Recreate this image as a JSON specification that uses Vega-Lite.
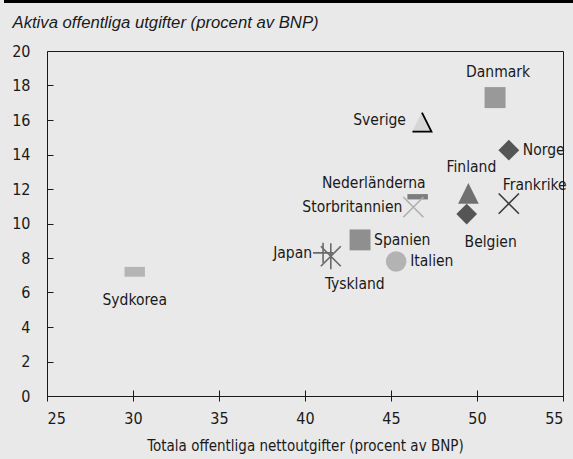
{
  "$schema": "https://vega.github.io/schema/vega-lite/v6.json",
  "width": 516,
  "height": 345,
  "autosize": {"type": "none"},
  "padding": {"left": 47, "top": 51, "right": 10, "bottom": 63},
  "background": "#e9e9e9",
  "config": {
    "view": {"stroke": "#1a1a1a", "strokeWidth": 1},
    "font": "'DejaVu Sans Condensed', 'Liberation Sans', sans-serif",
    "text": {"font": "'DejaVu Sans Condensed', 'Liberation Sans', sans-serif"},
    "axis": {"labelFont": "'DejaVu Sans Condensed', 'Liberation Sans', sans-serif", "titleFont": "'DejaVu Sans Condensed', 'Liberation Sans', sans-serif", "labelColor": "#1a1a1a", "titleColor": "#1a1a1a", "tickColor": "#1a1a1a", "grid": false, "domain": false}
  },
  "data": {
    "values": [
      {"land": "Sydkorea", "total": 30.1, "aktiva": 7.2},
      {"land": "Japan", "total": 41.05, "aktiva": 8.3},
      {"land": "Tyskland", "total": 41.5, "aktiva": 8.1},
      {"land": "Spanien", "total": 43.2, "aktiva": 9.05},
      {"land": "Italien", "total": 45.3, "aktiva": 7.8},
      {"land": "Storbritannien", "total": 46.3, "aktiva": 10.95},
      {"land": "Nederländerna", "total": 46.55, "aktiva": 11.55},
      {"land": "Sverige", "total": 46.8, "aktiva": 15.88},
      {"land": "Finland", "total": 49.5, "aktiva": 11.75},
      {"land": "Belgien", "total": 49.4, "aktiva": 10.55},
      {"land": "Danmark", "total": 51.05, "aktiva": 17.3},
      {"land": "Norge", "total": 51.85, "aktiva": 14.25},
      {"land": "Frankrike", "total": 51.85, "aktiva": 11.15}
    ]
  },
  "encoding": {
    "x": {
      "field": "total", "type": "quantitative",
      "scale": {"domain": [25, 55], "nice": false, "zero": false},
      "axis": {
        "title": "Totala offentliga nettoutgifter (procent av BNP)",
        "values": [25, 30, 35, 40, 45, 50, 55],
        "offset": -6, "tickSize": 11, "tickWidth": 1,
        "labelPadding": 9, "labelFontSize": 16,
        "titleFontSize": 15, "titleFontWeight": "normal", "titlePadding": 12
      }
    },
    "y": {
      "field": "aktiva", "type": "quantitative",
      "scale": {"domain": [0, 20], "nice": false},
      "axis": {
        "title": "Aktiva offentliga utgifter (procent av BNP)",
        "values": [0, 2, 4, 6, 8, 10, 12, 14, 16, 18, 20],
        "offset": -6, "tickSize": 6, "tickWidth": 1,
        "labelPadding": 17, "labelFontSize": 16,
        "titleAngle": 0, "titleAlign": "left", "titleBaseline": "alphabetic",
        "titleX": -41, "titleY": -24,
        "titleFont": "Liberation Sans", "titleFontStyle": "italic", "titleFontWeight": "normal", "titleFontSize": 16.7
      }
    }
  },
  "layer": [
    {
      "mark": {"type": "rule", "color": "#000000", "strokeWidth": 3, "clip": false},
      "encoding": {
        "x": {"datum": 22.5, "type": "quantitative"},
        "x2": {"datum": 55.7},
        "y": {"datum": 22.88, "type": "quantitative"},
        "y2": {"datum": 22.88}
      }
    },
    {
      "transform": [{"filter": {"field": "land", "oneOf": ["Danmark", "Spanien", "Norge", "Belgien", "Finland", "Italien", "Nederländerna", "Sydkorea", "Sverige"]}}],
      "mark": {"type": "point", "filled": true, "opacity": 1, "strokeWidth": 0},
      "encoding": {
        "shape": {"field": "land", "type": "nominal", "legend": null,
          "scale": {"domain": ["Danmark", "Spanien", "Norge", "Belgien", "Finland", "Italien", "Nederländerna", "Sydkorea", "Sverige", "Frankrike", "Storbritannien", "Japan", "Tyskland"],
            "range": ["square", "square", "diamond", "diamond", "M0,-1L1,1L-1,1Z", "circle", "M-1,-0.26L1,-0.26L1,0.26L-1,0.26Z", "M-1,-0.48L1,-0.48L1,0.48L-1,0.48Z", "M0,-1L1,1L-1,1Z", "M-1,-1L1,1M-1,1L1,-1", "M-1,-1L1,1M-1,1L1,-1", "M-1,0L1,0M0,-1L0,1", "M-1,-1L1,1M-1,1L1,-1M0,-1.3L0,1.3"]}},
        "color": {"field": "land", "type": "nominal", "legend": null,
          "scale": {"domain": ["Danmark", "Spanien", "Norge", "Belgien", "Finland", "Italien", "Nederländerna", "Sydkorea", "Sverige", "Frankrike", "Storbritannien", "Japan", "Tyskland"],
            "range": ["#999999", "#8f8f8f", "#555555", "#555555", "#707070", "#b3b3b3", "#7d7d7d", "#b5b5b5", "#d6d6d6", "#3c3c3c", "#b0b0b0", "#6a6a6a", "#6a6a6a"]}},
        "size": {"field": "land", "type": "nominal", "legend": null,
          "scale": {"domain": ["Danmark", "Spanien", "Norge", "Belgien", "Finland", "Italien", "Nederländerna", "Sydkorea", "Sverige", "Frankrike", "Storbritannien", "Japan", "Tyskland"],
            "range": [441, 400, 420, 400, 400, 380, 441, 121, 361, 361, 400, 256, 289]}}
      }
    },
    {
      "transform": [{"filter": {"field": "land", "oneOf": ["Frankrike", "Storbritannien", "Japan", "Tyskland"]}}],
      "mark": {"type": "point", "filled": false, "opacity": 1, "strokeWidth": 1.6},
      "encoding": {
        "shape": {"field": "land", "type": "nominal", "legend": null},
        "color": {"field": "land", "type": "nominal", "legend": null},
        "size": {"field": "land", "type": "nominal", "legend": null}
      }
    },
    {
      "transform": [{"filter": "datum.land == 'Sverige'"}],
      "mark": {"type": "point", "filled": false, "opacity": 1, "shape": "M0,-1L1,1L-1,1", "color": "#000000", "strokeWidth": 1.8, "size": 361}
    },
    {
      "transform": [{"filter": {"field": "land", "oneOf": ["Danmark", "Finland"]}}],
      "mark": {"type": "text", "align": "center", "baseline": "middle", "dx": 3, "dy": -26, "fontSize": 15.5, "color": "#1a1a1a"},
      "encoding": {"text": {"field": "land"}}
    },
    {
      "transform": [{"filter": "datum.land == 'Sydkorea'"}],
      "mark": {"type": "text", "align": "center", "baseline": "middle", "dx": 0, "dy": 28, "fontSize": 15.5, "color": "#1a1a1a"},
      "encoding": {"text": {"field": "land"}}
    },
    {
      "transform": [{"filter": {"field": "land", "oneOf": ["Belgien", "Tyskland"]}}],
      "mark": {"type": "text", "align": "center", "baseline": "middle", "dx": 24, "dy": 28, "fontSize": 15.5, "color": "#1a1a1a"},
      "encoding": {"text": {"field": "land"}}
    },
    {
      "transform": [{"filter": {"field": "land", "oneOf": ["Storbritannien", "Japan"]}}],
      "mark": {"type": "text", "align": "right", "baseline": "middle", "dx": -11, "dy": 0, "fontSize": 15.5, "color": "#1a1a1a"},
      "encoding": {"text": {"field": "land"}}
    },
    {
      "transform": [{"filter": "datum.land == 'Sverige'"}],
      "mark": {"type": "text", "align": "right", "baseline": "middle", "dx": -16, "dy": -2, "fontSize": 15.5, "color": "#1a1a1a"},
      "encoding": {"text": {"field": "land"}}
    },
    {
      "transform": [{"filter": {"field": "land", "oneOf": ["Norge", "Spanien", "Italien"]}}],
      "mark": {"type": "text", "align": "left", "baseline": "middle", "dx": 14, "dy": 0, "fontSize": 15.5, "color": "#1a1a1a"},
      "encoding": {"text": {"field": "land"}}
    },
    {
      "transform": [{"filter": "datum.land == 'Nederländerna'"}],
      "mark": {"type": "text", "align": "right", "baseline": "middle", "dx": 8, "dy": -14, "fontSize": 15.5, "color": "#1a1a1a"},
      "encoding": {"text": {"field": "land"}}
    },
    {
      "transform": [{"filter": "datum.land == 'Frankrike'"}],
      "mark": {"type": "text", "align": "left", "baseline": "middle", "dx": -6, "dy": -19, "fontSize": 15.5, "color": "#1a1a1a"},
      "encoding": {"text": {"field": "land"}}
    }
  ]
}
